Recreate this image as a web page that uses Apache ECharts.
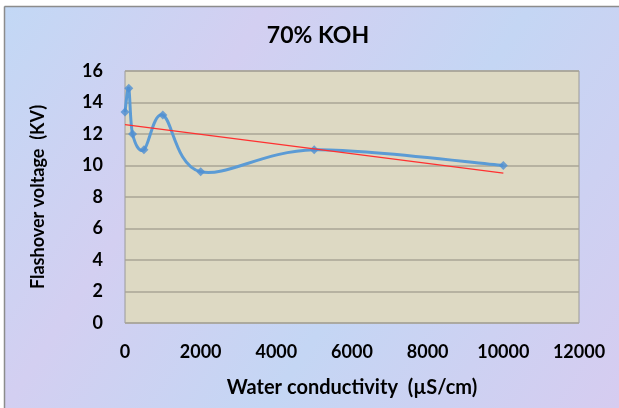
<!DOCTYPE html>
<html>
<head>
<meta charset="utf-8">
<script src="https://cdn.jsdelivr.net/npm/echarts@6/dist/echarts.min.js"></script>
<style>
html,body{margin:0;padding:0;background:#fff;}
#chart{width:619px;height:408px;}
</style>
</head>
<body>
<div id="chart"></div>
<script>
// ---- data ----
const titleText = '70% KOH';
const xAxisName = 'Water conductivity  (\u00b5S/cm)';
const yAxisName = 'Flashover voltage  (KV)';
const conductivity = [0, 100, 200, 500, 1000, 2000, 5000, 10000];
const voltage = [13.4, 14.9, 12.0, 11.0, 13.2, 9.6, 11.0, 10.0];
const trendX = [0, 10000];
const trendY = [12.6, 9.52];

const chart = echarts.init(document.getElementById('chart'));
const pts = conductivity.map((x, i) => [x, voltage[i]]);
const trendPts = trendX.map((x, i) => [x, trendY[i]]);

function smoothPath(api) {
  const p = pts.map(v => api.coord(v));
  const t = 1 / 6;
  let d = 'M' + p[0][0] + ' ' + p[0][1];
  for (let i = 0; i < p.length - 1; i++) {
    const p0 = p[i - 1] || p[i];
    const p1 = p[i];
    const p2 = p[i + 1];
    const p3 = p[i + 2] || p[i + 1];
    const c1x = p1[0] + (p2[0] - p0[0]) * t;
    const c1y = p1[1] + (p2[1] - p0[1]) * t;
    const c2x = p2[0] - (p3[0] - p1[0]) * t;
    const c2y = p2[1] - (p3[1] - p1[1]) * t;
    d += ' C' + c1x + ' ' + c1y + ' ' + c2x + ' ' + c2y + ' ' + p2[0] + ' ' + p2[1];
  }
  return d;
}

const font = 'Lato';
chart.setOption({
  animation: false,
  backgroundColor: '#ffffff',
  graphic: [
    { type: 'rect', z: -10, shape: { x: 4, y: 6, width: 615, height: 402 },
      style: { fill: new echarts.graphic.LinearGradient(0, 0, 1, 1, [
        { offset: 0, color: '#C2D8F5' },
        { offset: 0.3, color: '#D3CFF1' },
        { offset: 0.6, color: '#C4D6F4' },
        { offset: 1, color: '#D6CCF0' }
      ]) } },
    { type: 'line', z: -9, shape: { x1: 4.5, y1: 6.5, x2: 4.5, y2: 408 }, style: { stroke: '#8C8C8C', lineWidth: 1.5 } },
    { type: 'line', z: -9, shape: { x1: 4.5, y1: 6.5, x2: 619, y2: 6.5 }, style: { stroke: '#8C8C8C', lineWidth: 1.5 } }
  ],
  title: {
    text: titleText,
    left: 313, top: 19, textAlign: 'center',
    textStyle: { fontFamily: font, fontWeight: 'bold', fontSize: 23, color: '#000' }
  },
  grid: {
    left: 125, top: 71, width: 454, height: 252,
    show: true, backgroundColor: '#DDD9C3', borderColor: '#9A9A9A', borderWidth: 1
  },
  xAxis: {
    type: 'value', min: 0, max: 12000, interval: 2000,
    name: xAxisName, nameLocation: 'middle', nameGap: 55,
    nameTextStyle: { fontFamily: font, fontWeight: 'bold', fontSize: 20, color: '#000' },
    axisLine: { show: false }, axisTick: { show: false }, splitLine: { show: false },
    axisLabel: { fontFamily: font, fontWeight: 'bold', fontSize: 18, color: '#000', margin: 20,
      formatter: v => String(v) }
  },
  yAxis: {
    type: 'value', min: 0, max: 16, interval: 2,
    name: yAxisName, nameLocation: 'middle', nameGap: 78, nameRotate: 90,
    nameTextStyle: { fontFamily: font, fontWeight: 'bold', fontSize: 18, color: '#000' },
    axisLine: { show: false }, axisTick: { show: false },
    splitLine: { show: true, lineStyle: { color: '#A8A596', width: 1.5 } },
    axisLabel: { fontFamily: font, fontWeight: 'bold', fontSize: 18, color: '#000', margin: 22 }
  },
  series: [
    {
      type: 'custom', data: pts, z: 3,
      renderItem: function (params, api) {
        if (params.dataIndex !== 0) return null;
        return { type: 'path', shape: { pathData: smoothPath(api) },
          style: { fill: 'none', stroke: '#5B9BD5', lineWidth: 3 } };
      }
    },
    {
      type: 'scatter', data: pts, z: 4, symbol: 'diamond', symbolSize: 9,
      itemStyle: { color: '#4F8FD2' }
    },
    {
      type: 'line', data: trendPts, z: 5, showSymbol: false, symbol: 'none',
      lineStyle: { color: '#FF3030', width: 1.2 }
    }
  ]
});
</script>
</body>
</html>
